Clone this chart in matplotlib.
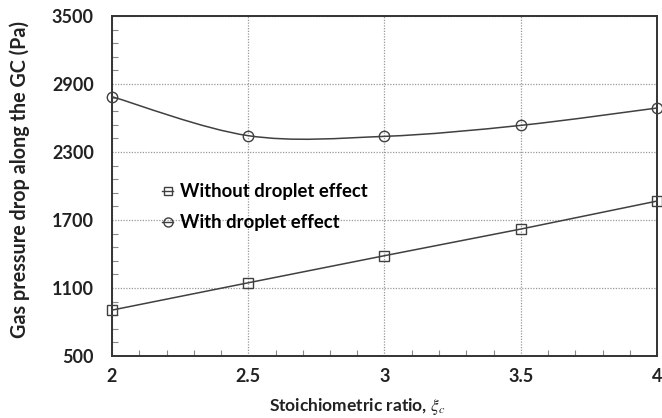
import matplotlib
matplotlib.use("Agg")
import matplotlib.pyplot as plt
from matplotlib.path import Path
from matplotlib.patches import PathPatch
from matplotlib.lines import Line2D
import numpy as np

plt.rcParams['font.family'] = ['Lato', 'DejaVu Sans']
plt.rcParams['mathtext.fontset'] = 'stix'

x_vals = [2, 2.5, 3, 3.5, 4]
without_droplet = [905, 1146, 1385, 1620, 1867]
with_droplet = [2788, 2444, 2438, 2535, 2688]
y_ticks = [500, 1100, 1700, 2300, 2900, 3500]
x_ticks = [2, 2.5, 3, 3.5, 4]
x_ticklabels = ['2', '2.5', '3', '3.5', '4']

W, H = 662, 418
fig = plt.figure(figsize=(6.62, 4.18), dpi=100)
ax = fig.add_axes([112/W, 1-356/H, (657-112)/W, (356-16)/H])

def smooth_path(xs, ys):
    xs = np.asarray(xs, float); ys = np.asarray(ys, float)
    verts = [(xs[0], ys[0])]
    codes = [Path.MOVETO]
    n = len(xs)
    for i in range(n - 1):
        p0 = (xs[max(i-1, 0)], ys[max(i-1, 0)])
        p1 = (xs[i], ys[i]); p2 = (xs[i+1], ys[i+1])
        p3 = (xs[min(i+2, n-1)], ys[min(i+2, n-1)])
        c1 = (p1[0] + (p2[0]-p0[0])/6, p1[1] + (p2[1]-p0[1])/6)
        c2 = (p2[0] - (p3[0]-p1[0])/6, p2[1] - (p3[1]-p1[1])/6)
        verts += [c1, c2, p2]
        codes += [Path.CURVE4]*3
    return Path(verts, codes)

lc = '#404040'
ax.plot(x_vals, without_droplet, color=lc, lw=1.1, marker='s', ms=7,
        mfc='none', mec=lc, mew=1.0, clip_on=False, zorder=3)
ax.add_patch(PathPatch(smooth_path(x_vals, with_droplet), fc='none', ec=lc, lw=1.1, zorder=3))
ax.plot(x_vals, with_droplet, ls='none', marker='o', ms=7.5, mfc='none', mec=lc,
        mew=1.0, clip_on=False, zorder=3)

ax.set_xlim(2, 4)
ax.set_ylim(500, 3500)
ax.set_xticks(x_ticks)
ax.set_xticklabels(x_ticklabels)
ax.set_yticks(y_ticks)
ax.set_xticks(np.arange(2, 4.001, 0.1), minor=True)
ax.set_yticks(np.arange(500, 3500.1, 120), minor=True)
ax.tick_params(which='major', direction='in', length=0, labelsize=13, labelcolor='#222222')
ax.tick_params(axis='y', which='major', pad=13)
ax.tick_params(axis='x', which='major', pad=9)
ax.tick_params(which='minor', direction='in', length=4, color='#888888', width=0.8)
for lab in ax.get_xticklabels() + ax.get_yticklabels():
    lab.set_fontweight('bold')
ax.grid(True, which='major', ls=(0, (1, 1.2)), color='#999999', lw=0.9)
for s in ax.spines.values():
    s.set_color('#333333'); s.set_linewidth(1.4)

ax.set_xlabel(r'Stoichiometric ratio, $\xi_c$', fontsize=12.5, fontweight='bold', color='#222222')
ax.set_ylabel('Gas pressure drop along the GC (Pa)', fontsize=14.2, fontweight='bold', color='#222222')
ax.xaxis.set_label_coords((357-112)/545, -(396-356)/340)
ax.yaxis.set_label_coords(-(112-30)/545, (356-180)/340)

h1 = Line2D([], [], color=lc, lw=1.0, marker='s', ms=6, mfc='none', mec=lc)
h2 = Line2D([], [], color=lc, lw=1.0, marker='o', ms=6.5, mfc='none', mec=lc)
ax.legend([h1, h2], ['Without droplet effect', 'With droplet effect'],
          loc='upper left', bbox_to_anchor=(0.075, 0.535), frameon=False,
          handlelength=0.6, handletextpad=0.35, labelspacing=0.75, borderpad=0,
          prop={'weight': 'bold', 'size': 13.3})

fig.savefig('out.png', dpi=100)
